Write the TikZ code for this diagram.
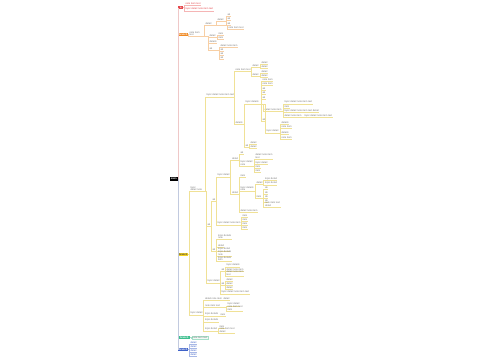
\documentclass[tikz,border=0pt]{standalone}
\usepackage{fontspec}
\setmainfont{Liberation Sans}
\usetikzlibrary{positioning}

\definecolor{txt}{HTML}{7A7A7A}
\definecolor{brA}{HTML}{E5484D}
\definecolor{brB}{HTML}{F08A24}
\definecolor{brC}{HTML}{F2D021}
\definecolor{brD}{HTML}{3FBF8F}
\definecolor{brE}{HTML}{3F62C8}
\definecolor{linkA}{HTML}{F5B5B5}
\definecolor{linkB}{HTML}{F7CFA5}
\definecolor{linkC}{HTML}{F0E196}
\definecolor{linkD}{HTML}{A5E0C8}
\definecolor{linkE}{HTML}{A8B8E6}
\definecolor{spineup}{HTML}{EFC8C8}
\definecolor{spinedown}{HTML}{C2CADF}

\tikzset{
  base/.style={anchor=south west, inner xsep=0.3pt, inner ysep=0.35pt, align=left,
    font=\fontsize{2.5}{2.9}\selectfont, text=txt},
  ul/.style={append after command={(\tikzlastnode.south west) edge[draw=#1, line width=0.25pt] (\tikzlastnode.south east)}},
  aleaf/.style={base, text=brA, ul=linkA},
  bleaf/.style={base, ul=linkB},
  cleaf/.style={base, ul=linkC},
  dleaf/.style={base, ul=linkD},
  eleaf/.style={base, text=brE, ul=linkE},
  fork/.style={draw=#1, line width=0.25pt, to path={-| ([xshift=-1.2pt]\tikztotarget) -- (\tikztotarget)}},
  bbox/.style={anchor=west, inner sep=0.3pt, minimum height=3.6pt,
    font=\fontsize{2.5}{2.9}\selectfont\bfseries, text=white},
}

\begin{document}
\begin{tikzpicture}[x=1pt, y=-1pt]
\fill[white] (0,0) rectangle (500,360);
\useasboundingbox (0,0) rectangle (500,360);

% root and main branches
\node[bbox, fill=black, anchor=east, minimum width=8pt] (root) at (178,179) {main};
\node[bbox, fill=brA, minimum width=5pt] (a) at (178,7.5) {a};
\node[bbox, fill=brB, minimum width=10pt] (b) at (178,34.5) {branch};
\node[bbox, fill=brC, minimum width=10pt, text=black!75] (c) at (178,254.5) {branch};
\node[bbox, fill=brD, minimum width=12pt] (d) at (178,337.5) {branch};
\node[bbox, fill=brE, minimum width=10pt] (e) at (178,349.5) {branch};

\draw[spineup, line width=0.6pt] (root.east) |- (a.west) (root.east) |- (b.west);
\draw[spinedown, line width=0.6pt] (root.east) |- (c.west) (root.east) |- (d.west) (root.east) |- (e.west);

% branch a
\node[aleaf] (a1) at (185,5.5) {note item text};
\node[aleaf] (a2) at (185,11) {topic detail note item text};
\foreach \c in {a1,a2} \draw[fork=linkA] (a.east) to (\c.south west);

% branch b
\node[bleaf] (b0) at (189,36.5) {note item\\text};
\node[bleaf] (b1) at (205,25) {detail};
\node[bleaf] (b1a) at (217,21.5) {detail};
\node[bleaf] (b1a1) at (227,16) {ab};
\node[bleaf] (b1a2) at (227,20.5) {ab};
\node[bleaf] (b1a3) at (227,25) {ab};
\node[bleaf] (b1b) at (228,29.5) {note item text};
\node[bleaf] (b2) at (209,37.5) {detail};
\node[bleaf] (b21) at (218,35.5) {item};
\node[bleaf] (b22) at (218,39.5) {item};
\node[bleaf] (b3) at (209,43.5) {details};
\node[bleaf] (b4) at (209,50.5) {ab};
\node[bleaf] (b41) at (220,47.5) {detail note item};
\node[bleaf] (b42) at (220,51.5) {ab};
\node[bleaf] (b43) at (220,55.5) {ab};
\node[bleaf] (b44) at (220,59.5) {ab};
\draw[fork=linkB] (b.east) to (b0.south west);
\foreach \p/\c in {b0/b1, b0/b2, b0/b3, b0/b4, b1/b1a, b1/b1b, b1a/b1a1, b1a/b1a2, b1a/b1a3,
  b2/b21, b2/b22, b4/b41, b4/b42, b4/b43, b4/b44}
  \draw[fork=linkB] (\p.south east) to (\c.south west);

% branch c
\node[cleaf] (c2) at (190,191.5) {topic\\detail note};
\node[cleaf] (c3) at (190,315) {topic detail};
\node[cleaf] (c1) at (206,97) {topic detail note item text};
\node[cleaf] (c11) at (235,71) {note item text};
\node[cleaf] (c11a) at (252,67) {detail};
\node[cleaf] (c111) at (261,64.5) {detail};
\node[cleaf] (c112) at (261,68.5) {detail};
\node[cleaf] (c11b) at (252,76) {detail};
\node[cleaf] (c113) at (261,73.5) {detail};
\node[cleaf] (c114) at (261,77.5) {detail};
\node[cleaf] (c12) at (235,124) {details};
\node[cleaf] (c13) at (245,104) {topic details};
\node[cleaf] (c131) at (262,81.5) {note item};
\node[cleaf] (c132) at (262,85.5) {note item};
\node[cleaf] (c133) at (262,90) {ab};
\node[cleaf] (c134) at (262,94.5) {ab};
\node[cleaf] (c135) at (262,99) {ab};
\node[cleaf] (c14) at (264,111) {detail note item};
\node[cleaf] (c141) at (284,104) {topic detail note item text};
\node[cleaf] (c142) at (284,108) {item};
\node[cleaf] (c143) at (284,112.5) {topic detail note item text detail};
\node[cleaf] (c144) at (284,117.5) {detail note item};
\node[cleaf] (c145) at (304,117.5) {topic detail note item text};
\node[cleaf] (c136) at (262,121.5) {ab};
\node[cleaf] (c15) at (266,133) {topic detail};
\node[cleaf] (c151) at (281,124) {details};
\node[cleaf] (c152) at (281,128.5) {note item};
\node[cleaf] (c153) at (281,134.5) {details};
\node[cleaf] (c154) at (281,139.5) {note item};
\node[cleaf] (c16) at (245,147) {ab};
\node[cleaf] (c161) at (250,144.5) {detail};
\node[cleaf] (c162) at (250,148.5) {detail};
\node[cleaf] (c9) at (207,226) {ab};
\node[cleaf] (c4) at (212,201) {ab};
\node[cleaf] (c7) at (217,177) {topic detail};
\node[cleaf] (c7a) at (231.5,160) {detail};
\node[cleaf] (c71) at (240,154) {ab};
\node[cleaf] (c17) at (240,166) {topic detail\\note};
\node[cleaf] (c171) at (255,159) {detail note item\\text};
\node[cleaf] (c172) at (255,164.5) {topic detail};
\node[cleaf] (c173) at (255,168.5) {item};
\node[cleaf] (c174) at (255,172.5) {item};
\node[cleaf] (c7b) at (231.5,194) {detail};
\node[cleaf] (c72) at (240,177) {item};
\node[cleaf] (c18) at (240,191.5) {topic details\\note};
\node[cleaf] (c19) at (256,184) {detail};
\node[cleaf] (c191) at (264.5,180.5) {topic detail};
\node[cleaf] (c192) at (264.5,185) {topic detail};
\node[cleaf] (c20) at (256,198) {item};
\node[cleaf] (c201) at (264.5,189.5) {ab};
\node[cleaf] (c202) at (264.5,194) {ab};
\node[cleaf] (c203) at (264.5,198) {ab};
\node[cleaf] (c204) at (264.5,202) {ab};
\node[cleaf] (c205) at (264.5,207) {note item text\\detail};
\node[cleaf] (c73) at (240,212) {detail note item};
\node[cleaf] (c8) at (217,225) {topic detail note item};
\node[cleaf] (c81) at (242,217) {item};
\node[cleaf] (c82) at (242,221) {item};
\node[cleaf] (c83) at (242,225) {item};
\node[cleaf] (c84) at (242,229) {item};
\node[cleaf] (c10) at (212,251) {ab};
\node[cleaf] (c101) at (217.5,239.5) {topic details\\note};
\node[cleaf] (c102) at (217.5,247) {detail};
\node[cleaf] (c103) at (217.5,251) {topic detail};
\node[cleaf] (c104) at (217.5,256) {topic details\\note};
\node[cleaf] (c105) at (217.5,261.5) {topic details\\item};
\node[cleaf] (c6) at (207,283) {topic detail};
\node[cleaf] (c21) at (221,271) {ab};
\node[cleaf] (c211) at (226,267) {topic details};
\node[cleaf] (c212) at (226,271) {detail note item};
\node[cleaf] (c213) at (226,276) {detail note item\\text};
\node[cleaf] (c22) at (221,285) {ab};
\node[cleaf] (c221) at (226,281) {detail};
\node[cleaf] (c222) at (226,285) {detail};
\node[cleaf] (c223) at (226,289) {detail};
\node[cleaf] (c23) at (221,294) {topic detail note item text};
\node[cleaf] (c31) at (204.5,300) {detail note item};
\node[cleaf] (c311) at (223,300) {detail};
\node[cleaf] (c32) at (204.5,307) {note item text};
\node[cleaf] (c321) at (227,306) {topic detail};
\node[cleaf] (c322) at (227,311) {note item text\\item};
\node[cleaf] (c33) at (204.5,316) {topic details};
\node[cleaf] (c331) at (220,316) {item};
\node[cleaf] (c34) at (204.5,322) {topic details};
\node[cleaf] (c35) at (204.5,331) {topic detail};
\node[cleaf] (c351) at (219,328) {item};
\node[cleaf] (c352) at (219,333) {note item text\\detail};
\foreach \c in {c2,c3} \draw[fork=linkC] (c.east) to (\c.south west);
\foreach \p/\c in {c2/c1, c2/c9, c2/c6, c1/c11, c1/c12, c11/c11a, c11/c11b,
  c11a/c111, c11a/c112, c11b/c113, c11b/c114, c12/c13, c12/c16,
  c13/c131, c13/c132, c13/c133, c13/c134, c13/c135, c13/c14, c13/c136, c13/c15,
  c14/c141, c14/c142, c14/c143, c14/c144, c144/c145,
  c15/c151, c15/c152, c15/c153, c15/c154, c16/c161, c16/c162,
  c9/c4, c9/c10, c4/c7, c4/c8, c7/c7a, c7/c7b, c7a/c71, c7a/c17,
  c17/c171, c17/c172, c17/c173, c17/c174, c7b/c72, c7b/c18, c7b/c73,
  c18/c19, c18/c20, c19/c191, c19/c192, c20/c201, c20/c202, c20/c203, c20/c204, c20/c205,
  c8/c81, c8/c82, c8/c83, c8/c84,
  c10/c101, c10/c102, c10/c103, c10/c104, c10/c105,
  c6/c21, c6/c22, c6/c23, c21/c211, c21/c212, c21/c213, c22/c221, c22/c222, c22/c223,
  c3/c31, c3/c32, c3/c33, c3/c34, c3/c35, c31/c311, c32/c321, c32/c322, c33/c331,
  c35/c351, c35/c352}
  \draw[fork=linkC] (\p.south east) to (\c.south west);

% branch d
\node[dleaf, draw=linkD, line width=0.25pt, fill=brD!8] (d1) at (192,339.2) {note item text};
\draw[fork=linkD] (d.east) to (d1.west);

% branch e
\node[eleaf] (e1) at (190,344) {detail};
\node[eleaf] (e2) at (190,348) {detail};
\node[eleaf] (e3) at (190,352.5) {detail};
\node[eleaf] (e4) at (190,356.5) {detail};
\foreach \c in {e1,e2,e3,e4} \draw[fork=linkE] (e.east) to (\c.south west);
\end{tikzpicture}
\end{document}
